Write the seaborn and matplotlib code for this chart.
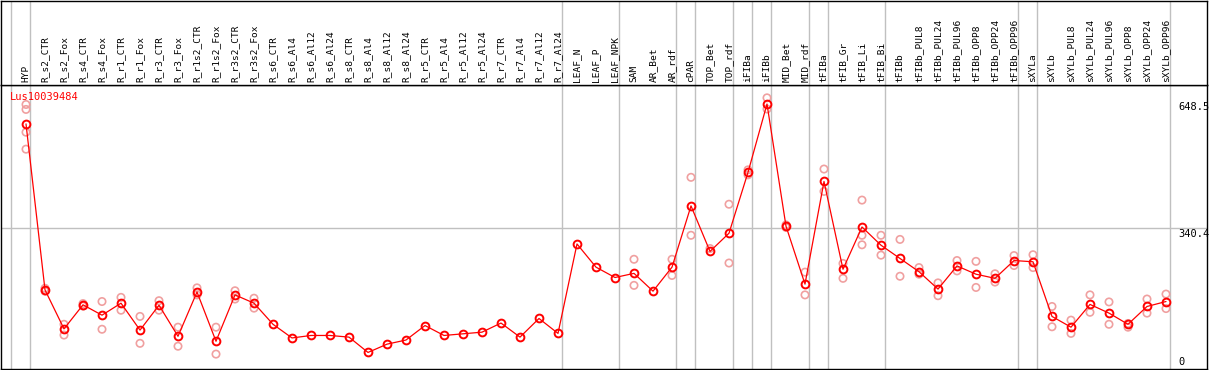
import numpy as np
import pandas as pd
import matplotlib
matplotlib.use("Agg")
import matplotlib.pyplot as plt
import seaborn as sns

labels = ["HYP", "R_s2_CTR", "R_s2_Fox", "R_s4_CTR", "R_s4_Fox", "R_r1_CTR", "R_r1_Fox",
          "R_r3_CTR", "R_r3_Fox", "R_r1s2_CTR", "R_r1s2_Fox", "R_r3s2_CTR", "R_r3s2_Fox",
          "R_s6_CTR", "R_s6_Al4", "R_s6_Al12", "R_s6_Al24", "R_s8_CTR", "R_s8_Al4",
          "R_s8_Al12", "R_s8_Al24", "R_r5_CTR", "R_r5_Al4", "R_r5_Al12", "R_r5_Al24",
          "R_r7_CTR", "R_r7_Al4", "R_r7_Al12", "R_r7_Al24", "LEAF_N", "LEAF_P", "LEAF_NPK",
          "SAM", "AR_Bet", "AR_rdf", "cPAR", "TOP_Bet", "TOP_rdf", "iFIBa", "iFIBb",
          "MID_Bet", "MID_rdf", "tFIBa", "tFIB_Gr", "tFIB_Li", "tFIB_Bi", "tFIBb",
          "tFIBb_PUL8", "tFIBb_PUL24", "tFIBb_PUL96", "tFIBb_OPP8", "tFIBb_OPP24",
          "tFIBb_OPP96", "sXYLa", "sXYLb", "sXYLb_PUL8", "sXYLb_PUL24", "sXYLb_PUL96",
          "sXYLb_OPP8", "sXYLb_OPP24", "sXYLb_OPP96"]

nan = np.nan
means = [592, 191, 97, 155, 130, 159, 94, 154, 79, 186, 67, 179, 159,
         108, 75, 81, 81, 77, 40, 60, 70, 105, 81, 85, 89, 111, 77, 122, 86,
         302, 246, 221, 231, 188, 246, 394, 284, 328, 475, 640, 345, 205,
         453, 241, 343, 299, 267, 235, 193, 249, 229, 219, 262, 259,
         127, 101, 156, 135, 108, 151, 163]

rep_a = [639, 195, 108, 158, 163, 173, 127, 165, 101, 196, 101, 189, 171,
         nan, nan, nan, nan, nan, nan, nan, nan, nan, nan, nan, nan, nan, nan, nan, nan,
         nan, nan, nan, 265, nan, 265, 463, 291, 398, 481, 655, 348, 234,
         483, 255, 408, 323, 313, 245, 208, 262, 260, 230, 274, 276,
         151, 118, 179, 162, 110, 169, 181]

rep_b = [627, 188, 82, 152, 96, 142, 62, 142, 55, 179, 36, 169, 147,
         nan, nan, nan, nan, nan, nan, nan, nan, nan, nan, nan, nan, nan, nan, nan, nan,
         nan, nan, nan, 202, nan, 226, 323, nan, 256, 469, 628, 342, 179,
         429, 219, 323, 275, 224, 229, 177, 237, 197, 210, 250, 245,
         102, 86, 137, 108, 101, 135, 146]

rep_c = [572] + [nan] * 43 + [300] + [nan] * 16
rep_d = [531] + [nan] * 60

group_ends = [-1, 0, 28, 31, 34, 35, 37, 38, 39, 41, 42, 45, 52, 53, 60]
gene = "Lus10039484"
ytick_vals = [648.5, 340.4, 0]

# ---------------------------------------------------------------
W, H = 1209, 370
fig = plt.figure(figsize=(W / 100, H / 100), dpi=100)
sns.set_style("white")
plt.rcParams["font.family"] = ["DejaVu Sans Mono", "DejaVu Sans"]

xl = (-1.316, 62.158)
ax = fig.add_axes([1 / W, 1 / H, 1206 / W, 284 / H])
axt = fig.add_axes([1 / W, 285 / H, 1206 / W, 84.5 / H])

x = np.arange(len(labels))
grey = "#c0c0c0"
for a in (ax, axt):
    a.set_xlim(*xl)
    a.set_xticks([])
    a.set_yticks([])
    for s in a.spines.values():
        s.set_color("black")
        s.set_linewidth(1.0)
    for g in group_ends:
        a.axvline(g + 0.23, color=grey, lw=1.0, zorder=0)

axt.set_ylim(0, 1)
for i, lab in enumerate(labels):
    axt.text(i, 0.03, lab, rotation=90, ha="center", va="bottom",
             fontsize=6.8, color="black")

ax.set_ylim(0, 686)
ax.axhline(340.4, color=grey, lw=1.0, zorder=0)

# replicates
reps = pd.DataFrame({
    "x": np.concatenate([x, x, x, x]),
    "y": np.concatenate([rep_a, rep_b, rep_c, rep_d]),
}).dropna()
sns.scatterplot(data=reps, x="x", y="y", ax=ax, marker="o", s=28,
                facecolors="none", edgecolor="#f0a0a0", linewidth=1.2, zorder=2)

df = pd.DataFrame({"x": x, "y": means})
sns.lineplot(data=df, x="x", y="y", ax=ax, color="red", lw=0.9, marker="o",
             markersize=5.6, markerfacecolor="none", markeredgecolor="red",
             markeredgewidth=1.4, zorder=3)
ax.set_xlabel("")
ax.set_ylabel("")
ax.set_xlim(*xl)
ax.set_xticks([])
ax.set_yticks([])

ax.text(9 / 1206, 1 - 11.5 / 284, gene, transform=ax.transAxes, color="red",
        fontsize=7.5, ha="left", va="center")

tx = 1178
for v in ytick_vals:
    xd = xl[0] + (tx - 1) / 1206 * (xl[1] - xl[0])
    if v == 0:
        ax.text(xd, 4, "0", fontsize=7.5, ha="left", va="bottom", color="black")
    else:
        ax.text(xd, v - 3, f"{v}", fontsize=7.5, ha="left", va="top", color="black")

fig.savefig("out.png", dpi=100)
